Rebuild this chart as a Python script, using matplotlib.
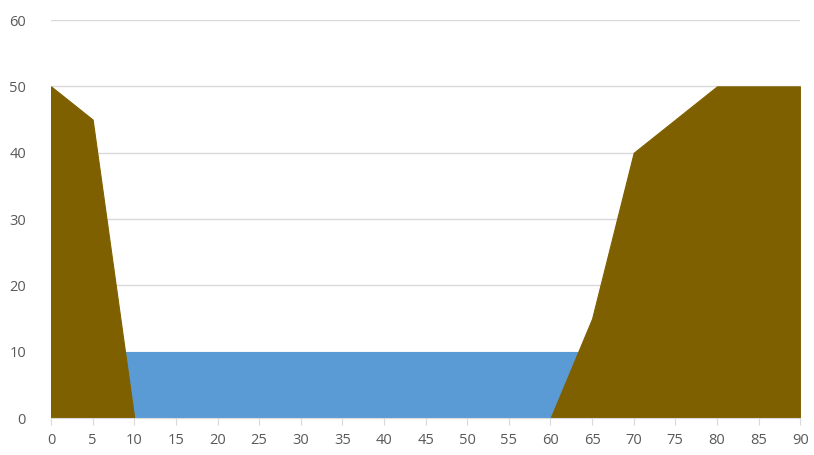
import matplotlib.pyplot as plt

# cross-section data, one point every 5 units
x = [0, 5, 10, 15, 20, 25, 30, 35, 40, 45, 50, 55, 60, 65, 70, 75, 80, 85, 90]
ground = [50, 45, 0, 0, 0, 0, 0, 0, 0, 0, 0, 0, 0, 15, 40, 45, 50, 50, 50]
water = [10] * len(x)

plt.rcParams['font.family'] = ['Open Sans', 'DejaVu Sans']

fig = plt.figure(figsize=(8.14, 4.55), dpi=100)
ax = fig.add_axes([0.0627, 0.081, 0.9203, 0.875])

# water first, ground drawn over it
ax.fill_between(x, 0, water, color='#5B9BD5', linewidth=0, zorder=2)
ax.fill_between(x, 0, ground, facecolor='#7F6000', edgecolor='#7F6000',
                linewidth=0.8, zorder=3)

ax.set_xlim(0, 90)
ax.set_ylim(0, 60)
ax.set_xticks(x)
ax.set_yticks(range(0, 61, 10))

ax.grid(axis='y', color='#d9d9d9', linewidth=1, zorder=1)
ax.set_axisbelow(True)
for s in ['left', 'right', 'top']:
    ax.spines[s].set_visible(False)
ax.spines['bottom'].set_color('#d9d9d9')
ax.spines['bottom'].set_zorder(4)

ax.tick_params(axis='x', direction='out', length=5, color='#d9d9d9',
               labelcolor='#595959', labelsize=10.5, pad=6)
ax.tick_params(axis='y', length=0, labelcolor='#595959', labelsize=10.5, pad=18)

fig.savefig('out.png', dpi=100)
